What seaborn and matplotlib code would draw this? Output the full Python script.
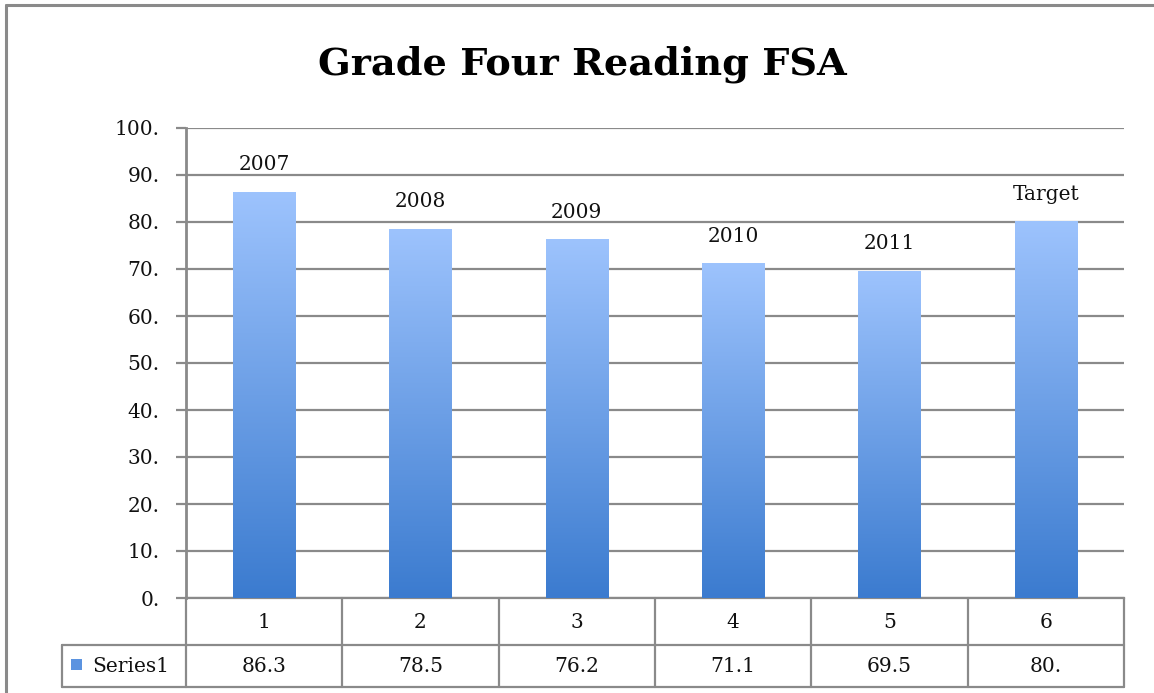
import numpy as np
import pandas as pd
import matplotlib
matplotlib.use("Agg")
import matplotlib.pyplot as plt
import seaborn as sns
from matplotlib.colors import LinearSegmentedColormap
from matplotlib.transforms import blended_transform_factory
from matplotlib.lines import Line2D
from matplotlib.patches import Rectangle

categories = ["1", "2", "3", "4", "5", "6"]
values = [86.3, 78.5, 76.2, 71.1, 69.5, 80.0]
value_labels = ["86.3", "78.5", "76.2", "71.1", "69.5", "80."]
bar_labels = ["2007", "2008", "2009", "2010", "2011", "Target"]
series_name = "Series1"
yticks = [0, 10, 20, 30, 40, 50, 60, 70, 80, 90, 100]
ytick_labels = ["0.", "10.", "20.", "30.", "40.", "50.", "60.", "70.", "80.", "90.", "100."]
title = "Grade Four Reading FSA"

sns.set_theme(style="white")
plt.rcParams["font.family"] = ["DejaVu Serif"]

GRAY = "#8a8a8a"
TOP = "#9dc3fd"
BOT = "#3b7bcf"
TXT = "#111111"
FS = 14.5

W, H = 1154, 693
fig = plt.figure(figsize=(W / 100, H / 100), dpi=100)
ax = fig.add_axes([186 / W, 1 - 598 / H, (1124 - 186) / W, (598 - 128) / H])

df = pd.DataFrame({"cat": categories, "val": values})
sns.barplot(data=df, x="cat", y="val", width=0.4, color=BOT, ax=ax, zorder=3)

cmap = LinearSegmentedColormap.from_list("g", [BOT, TOP])
grad = np.linspace(0, 1, 256).reshape(-1, 1)
for p in ax.patches:
    x0, w, h = p.get_x(), p.get_width(), p.get_height()
    p.set_facecolor("none")
    p.set_edgecolor("none")
    ax.imshow(grad, extent=[x0, x0 + w, 0, h], origin="lower", cmap=cmap,
              aspect="auto", zorder=3)

for i, (v, lab) in enumerate(zip(values, bar_labels)):
    ax.annotate(lab, (i, v), xytext=(0, 13), textcoords="offset points",
                ha="center", va="bottom", fontsize=FS, color=TXT)

ax.set_xlim(-0.5, len(categories) - 0.5)
ax.set_ylim(0, 100)
ax.set_yticks(yticks)
ax.set_yticklabels(ytick_labels, fontsize=FS, color=TXT)
ax.set_xticks([])
ax.set_xlabel("")
ax.set_ylabel("")
ax.yaxis.grid(True, color=GRAY, linewidth=1.6, zorder=0)
ax.set_axisbelow(True)
ax.tick_params(axis="y", direction="out", length=7, width=1.6, color=GRAY, pad=12, left=True)
for s in ["top", "right"]:
    ax.spines[s].set_visible(False)
ax.spines["left"].set_color(GRAY)
ax.spines["left"].set_linewidth(2)
ax.spines["bottom"].set_color(GRAY)
ax.spines["bottom"].set_linewidth(1.6)

# data table below the axes
tr = blended_transform_factory(ax.transData, fig.transFigure)
y_top = 1 - 598 / H
y_mid = 1 - 645 / H
y_bot = 1 - 687 / H
n = len(categories)
lw = 1.6
for xb in np.arange(n + 1) - 0.5:
    fig.add_artist(Line2D([xb, xb], [y_top, y_bot], transform=tr, color=GRAY, lw=lw))
fig.add_artist(Line2D([-0.5, n - 0.5], [y_mid, y_mid], transform=tr, color=GRAY, lw=lw))
fig.add_artist(Line2D([-0.5, n - 0.5], [y_bot, y_bot], transform=tr, color=GRAY, lw=lw))
# label cell
xl = 62 / W
xa = 186 / W
fig.add_artist(Line2D([xl, xa], [y_mid, y_mid], transform=fig.transFigure, color=GRAY, lw=lw))
fig.add_artist(Line2D([xl, xa], [y_bot, y_bot], transform=fig.transFigure, color=GRAY, lw=lw))
fig.add_artist(Line2D([xl, xl], [y_mid, y_bot], transform=fig.transFigure, color=GRAY, lw=lw))
for i, (c, vl) in enumerate(zip(categories, value_labels)):
    fig.text(i, (y_top + y_mid) / 2 - 1.5 / H, c, transform=tr, ha="center", va="center",
             fontsize=FS, color=TXT)
    fig.text(i, (y_mid + y_bot) / 2, vl, transform=tr, ha="center", va="center",
             fontsize=FS, color=TXT)
fig.add_artist(Rectangle((71 / W, 1 - 670 / H), 11 / W, 11 / H,
                         transform=fig.transFigure, facecolor="#5b93e0", edgecolor="none"))
fig.text(92 / W, (y_mid + y_bot) / 2, series_name, ha="left", va="center",
         fontsize=FS, color=TXT)

# title
fig.text(582 / W, 1 - 64 / H, title, ha="center", va="center", fontsize=27.5,
         fontweight="bold", color="#000000")

# outer border (partially visible)
fig.add_artist(Line2D([6 / W, 1], [1 - 5 / H, 1 - 5 / H], transform=fig.transFigure, color=GRAY, lw=2.2))
fig.add_artist(Line2D([6 / W, 6 / W], [0, 1 - 5 / H], transform=fig.transFigure, color=GRAY, lw=2.2))

fig.savefig("out.png", dpi=100, facecolor="white")
